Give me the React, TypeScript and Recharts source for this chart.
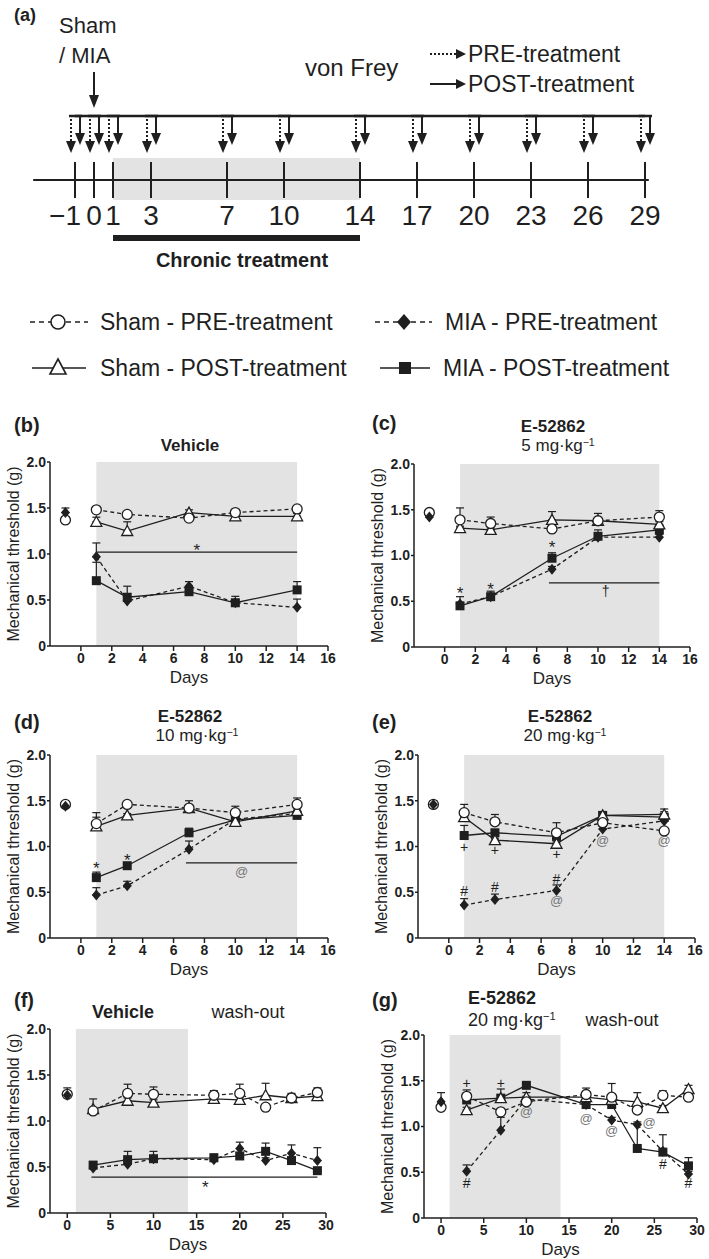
import React from "react"
import {
  ComposedChart,
  Line,
  XAxis,
  YAxis,
  ReferenceArea,
  ReferenceLine,
  ReferenceDot,
  ErrorBar,
} from "recharts"

const INK = "#1f1f1f"
const SHADE = "#e3e3e3"
const FONT = '"Liberation Sans", Arial, Helvetica, sans-serif'

// (a) protocol timeline
const timelineDays = [-1, 0, 1, 3, 7, 10, 14, 17, 20, 23, 26, 29]
const chronicWindow = [1, 14]
const injectionDay = 0

// von Frey test days
const chronicDays = [1, 3, 7, 10, 14]
const washoutDays = [3, 7, 10, 17, 20, 23, 26, 29]
const chronicTicks = [0, 2, 4, 6, 8, 10, 12, 14, 16]
const washoutTicks = [0, 5, 10, 15, 20, 25, 30]
const yTicks = [0, 0.5, 1, 1.5, 2]

// (b) vehicle
const bShamPre = [1.48, 1.43, 1.39, 1.45, 1.49]
const bShamPreErr = [0.02, 0.02, 0.02, 0.02, 0.02]
const bShamPost = [1.35, 1.25, 1.45, 1.41, 1.41]
const bShamPostErr = [0.05, 0.1, 0.03, 0.03, 0.03]
const bMiaPre = [0.97, 0.49, 0.65, 0.47, 0.42]
const bMiaPreErr = [0.15, 0.04, 0.05, 0.03, 0.09]
const bMiaPost = [0.71, 0.53, 0.59, 0.47, 0.61]
const bMiaPostErr = [0.2, 0.12, 0.05, 0.07, 0.09]
const bBaseline = [1.37, 1.45, 0.05] // sham, MIA, sem

// (c) E-52862 5 mg/kg
const cShamPre = [1.39, 1.35, 1.29, 1.38, 1.42]
const cShamPreErr = [0.13, 0.07, 0.02, 0.03, 0.07]
const cShamPost = [1.3, 1.28, 1.39, 1.38, 1.34]
const cShamPostErr = [0.02, 0.02, 0.09, 0.08, 0.03]
const cMiaPre = [0.47, 0.55, 0.85, 1.2, 1.2]
const cMiaPreErr = [0.08, 0.03, 0.03, 0.03, 0.03]
const cMiaPost = [0.45, 0.55, 0.97, 1.21, 1.28]
const cMiaPostErr = [0.03, 0.06, 0.06, 0.07, 0.04]
const cBaseline = [1.47, 1.42, 0.03]

// (d) E-52862 10 mg/kg
const dShamPre = [1.25, 1.46, 1.42, 1.37, 1.46]
const dShamPreErr = [0.12, 0.02, 0.08, 0.07, 0.07]
const dShamPost = [1.22, 1.34, 1.42, 1.27, 1.39]
const dShamPostErr = [0.1, 0.02, 0.02, 0.03, 0.02]
const dMiaPre = [0.47, 0.57, 0.97, 1.3, 1.36]
const dMiaPreErr = [0.08, 0.05, 0.09, 0.03, 0.03]
const dMiaPost = [0.66, 0.79, 1.15, 1.29, 1.34]
const dMiaPostErr = [0.06, 0.03, 0.05, 0.03, 0.03]
const dBaseline = [1.46, 1.44, 0.02]

// (e) E-52862 20 mg/kg
const eShamPre = [1.37, 1.27, 1.15, 1.26, 1.17]
const eShamPreErr = [0.09, 0.08, 0.11, 0.03, 0.03]
const eShamPost = [1.32, 1.07, 1.03, 1.34, 1.35]
const eShamPostErr = [0.02, 0.02, 0.02, 0.03, 0.03]
const eMiaPre = [0.36, 0.42, 0.52, 1.19, 1.28]
const eMiaPreErr = [0.07, 0.06, 0.06, 0.03, 0.03]
const eMiaPost = [1.12, 1.15, 1.11, 1.34, 1.32]
const eMiaPostErr = [0.11, 0.03, 0.03, 0.04, 0.09]
const eBaseline = [1.46, 1.46, 0.04]

// (f) vehicle + wash-out
const fShamPre = [1.11, 1.3, 1.29, 1.28, 1.3, 1.15, 1.25, 1.31]
const fShamPreErr = [0.02, 0.1, 0.08, 0.05, 0.1, 0.02, 0.05, 0.05]
const fShamPost = [1.13, 1.22, 1.2, 1.24, 1.23, 1.28, 1.25, 1.27]
const fShamPostErr = [0.11, 0.03, 0.03, 0.03, 0.03, 0.13, 0.03, 0.03]
const fMiaPre = [0.49, 0.53, 0.59, 0.58, 0.7, 0.57, 0.65, 0.57]
const fMiaPreErr = [0.03, 0.03, 0.03, 0.03, 0.07, 0.03, 0.09, 0.14]
const fMiaPost = [0.52, 0.58, 0.59, 0.6, 0.62, 0.67, 0.57, 0.46]
const fMiaPostErr = [0.04, 0.09, 0.08, 0.04, 0.03, 0.09, 0.03, 0.03]
const fBaseline = [1.29, 1.28, 0.08]

// (g) E-52862 20 mg/kg + wash-out
const gShamPre = [1.33, 1.16, 1.27, 1.35, 1.32, 1.18, 1.34, 1.32]
const gShamPreErr = [0.07, 0.03, 0.03, 0.07, 0.15, 0.03, 0.05, 0.03]
const gShamPost = [1.18, 1.31, 1.32, 1.32, 1.29, 1.27, 1.2, 1.41]
const gShamPostErr = [0.03, 0.03, 0.05, 0.03, 0.03, 0.1, 0.03, 0.04]
const gMiaPre = [0.51, 0.96, 1.3, 1.24, 1.07, 1.02, 0.73, 0.48]
const gMiaPreErr = [0.07, 0.14, 0.03, 0.03, 0.03, 0.03, 0.18, 0.03]
const gMiaPost = [1.29, 1.31, 1.45, 1.24, 1.24, 0.76, 0.72, 0.57]
const gMiaPostErr = [0.04, 0.1, 0.03, 0.03, 0.03, 0.27, 0.03, 0.09]
const gBaseline = [1.21, 1.27, 0.1]

// significance marks: [day, value, symbol]
const bNotes: [number, number, string][] = [[7.5, 1.08, "*"]]
const cNotes: [number, number, string][] = [[1, 0.63, "*"], [3, 0.67, "*"], [7, 1.13, "*"], [10.5, 0.61, "†"]]
const dNotes: [number, number, string][] = [[1, 0.8, "*"], [3, 0.89, "*"], [10.4, 0.73, "@"]]
const eNotes: [number, number, string][] = [
  [1, 1.0, "+"], [3, 0.96, "+"], [7, 0.92, "+"],
  [1, 0.51, "#"], [3, 0.56, "#"], [7, 0.65, "#"],
  [7, 0.41, "@"], [10, 1.07, "@"], [14, 1.07, "@"],
]
const fNotes: [number, number, string][] = [[16, 0.32, "*"]]
const gNotes: [number, number, string][] = [
  [3, 1.47, "+"], [7, 1.47, "+"],
  [3, 0.38, "#"], [26, 0.59, "#"], [29, 0.38, "#"],
  [10, 1.16, "@"], [17, 1.09, "@"], [20, 0.96, "@"], [24.4, 1.04, "@"],
]
// significance bars: [from day, to day, value]
const bBars: [number, number, number][] = [[1, 14, 1.02]]
const cBars: [number, number, number][] = [[6.8, 14, 0.7]]
const dBars: [number, number, number][] = [[6.8, 14, 0.82]]
const fBars: [number, number, number][] = [[2.8, 29, 0.39]]

const ok = (p: any) =>
  p && p.cx != null && p.cy != null && p.value != null && !Number.isNaN(p.cy)

const openCircle = (p: any) =>
  ok(p) ? (
    <circle key={p.index} cx={p.cx} cy={p.cy} r={5} fill="#fff" stroke={INK} strokeWidth={1.3} />
  ) : (
    <g key={p?.index} />
  )
const openTriangle = (p: any) =>
  ok(p) ? (
    <polygon
      key={p.index}
      points={`${p.cx},${p.cy - 5.5} ${p.cx + 5.5},${p.cy + 4.5} ${p.cx - 5.5},${p.cy + 4.5}`}
      fill="#fff"
      stroke={INK}
      strokeWidth={1.3}
    />
  ) : (
    <g key={p?.index} />
  )
const filledDiamond = (p: any) =>
  ok(p) ? (
    <polygon
      key={p.index}
      points={`${p.cx},${p.cy - 5.5} ${p.cx + 4.5},${p.cy} ${p.cx},${p.cy + 5.5} ${p.cx - 4.5},${p.cy}`}
      fill={INK}
    />
  ) : (
    <g key={p?.index} />
  )
const filledSquare = (p: any) =>
  ok(p) ? (
    <rect key={p.index} x={p.cx - 4.5} y={p.cy - 4.5} width={9} height={9} fill={INK} />
  ) : (
    <g key={p?.index} />
  )

const noteStyle = (s: string) => {
  if (s === "@") return { fill: "#777", fontSize: 13, dy: "0" }
  if (s === "*") return { fill: INK, fontSize: 17, dy: "0.22em" }
  return { fill: INK, fontSize: 14, dy: "0" }
}

type PanelProps = {
  box: [number, number, number, number]
  xDomain: [number, number]
  xTicks: number[]
  days: number[]
  baseDay: number
  baseline: number[]
  shamPre: number[]
  shamPreErr: number[]
  shamPost: number[]
  shamPostErr: number[]
  miaPre: number[]
  miaPreErr: number[]
  miaPost: number[]
  miaPostErr: number[]
  notes: [number, number, string][]
  bars: [number, number, number][]
}

function Panel(p: PanelProps) {
  const [left, right, top, bottom] = p.box
  const yw = 50
  const mt = 10
  const mr = 12
  const xh = 45
  const rows: any[] = [
    { day: p.baseDay, baseSham: p.baseline[0], baseMia: p.baseline[1], baseErr: [0, p.baseline[2]] },
    ...p.days.map((day, i) => ({
      day,
      shamPre: p.shamPre[i],
      shamPreErr: [0, p.shamPreErr[i]],
      shamPost: p.shamPost[i],
      shamPostErr: [0, p.shamPostErr[i]],
      miaPre: p.miaPre[i],
      miaPreErr: [0, p.miaPreErr[i]],
      miaPost: p.miaPost[i],
      miaPostErr: [0, p.miaPostErr[i]],
    })),
  ]
  const err = (key: string) => (
    <ErrorBar dataKey={key} width={4} stroke={INK} strokeWidth={1.2} direction="y" />
  )
  return (
    <div style={{ position: "absolute", left: left - yw, top: top - mt }}>
      <ComposedChart
        width={right - left + yw + mr}
        height={bottom - top + mt + xh}
        data={rows}
        margin={{ top: mt, right: mr, bottom: 0, left: 0 }}
      >
        <ReferenceArea
          x1={chronicWindow[0]}
          x2={chronicWindow[1]}
          y1={0}
          y2={2}
          fill={SHADE}
          fillOpacity={1}
          stroke="none"
        />
        <XAxis
          type="number"
          dataKey="day"
          domain={p.xDomain}
          ticks={p.xTicks}
          height={xh}
          tickSize={5}
          tickMargin={2}
          axisLine={{ stroke: INK, strokeWidth: 1.5 }}
          tickLine={{ stroke: INK, strokeWidth: 1.5 }}
          tick={{ fontSize: 14, fontWeight: 700, fill: INK }}
          label={{ value: "Days", position: "insideBottom", offset: 8, fontSize: 17, fill: INK }}
        />
        <YAxis
          type="number"
          domain={[0, 2]}
          ticks={yTicks}
          width={yw}
          tickSize={3}
          tickMargin={1}
          axisLine={{ stroke: INK, strokeWidth: 1.5 }}
          tickLine={{ stroke: INK, strokeWidth: 1.5 }}
          tick={{ fontSize: 14, fontWeight: 700, fill: INK }}
          tickFormatter={(v: number) => (v === 0 ? "0" : v.toFixed(1))}
          label={{
            value: "Mechanical threshold (g)",
            angle: -90,
            position: "insideLeft",
            offset: 13,
            fontSize: 16,
            fill: INK,
            style: { textAnchor: "middle" },
          }}
        />
        {p.bars.map(([from, to, y], i) => (
          <ReferenceLine
            key={`bar${i}`}
            segment={[{ x: from, y }, { x: to, y }]}
            stroke={INK}
            strokeWidth={1.2}
          />
        ))}
        <Line dataKey="baseSham" stroke="none" dot={openCircle} activeDot={false} isAnimationActive={false} />
        <Line dataKey="baseMia" stroke="none" dot={filledDiamond} activeDot={false} isAnimationActive={false}>
          {err("baseErr")}
        </Line>
        <Line
          dataKey="miaPre"
          stroke={INK}
          strokeWidth={1.3}
          strokeDasharray="4 3"
          dot={filledDiamond}
          activeDot={false}
          isAnimationActive={false}
        >
          {err("miaPreErr")}
        </Line>
        <Line
          dataKey="miaPost"
          stroke={INK}
          strokeWidth={1.3}
          dot={filledSquare}
          activeDot={false}
          isAnimationActive={false}
        >
          {err("miaPostErr")}
        </Line>
        <Line
          dataKey="shamPost"
          stroke={INK}
          strokeWidth={1.3}
          dot={openTriangle}
          activeDot={false}
          isAnimationActive={false}
        >
          {err("shamPostErr")}
        </Line>
        <Line
          dataKey="shamPre"
          stroke={INK}
          strokeWidth={1.3}
          strokeDasharray="4 3"
          dot={openCircle}
          activeDot={false}
          isAnimationActive={false}
        >
          {err("shamPreErr")}
        </Line>
        {p.notes.map(([day, v, s], i) => {
          const st = noteStyle(s)
          return (
            <ReferenceDot
              key={`note${i}`}
              x={day}
              y={v}
              r={0}
              shape={(q: any) => (
                <text
                  x={q.cx}
                  y={q.cy}
                  dy={st.dy}
                  textAnchor="middle"
                  dominantBaseline="central"
                  fontSize={st.fontSize}
                  fill={st.fill}
                  style={{ fill: st.fill }}
                >
                  {s}
                </text>
              )}
            />
          )
        })}
      </ComposedChart>
    </div>
  )
}

function TimelineMark(p: any) {
  if (!ok(p)) return <g key={p?.index} />
  const { cx, cy } = p
  const day = p.payload.day
  const neg = day < 0
  return (
    <g key={p.index}>
      <line x1={cx} x2={cx} y1={cy - 18} y2={cy + 18} stroke={INK} strokeWidth={2} />
      <text
        x={neg ? cx + 6 : cx}
        y={cy + 35}
        textAnchor={neg ? "end" : "middle"}
        dominantBaseline="central"
        fontSize={28}
        fill={INK}
      >
        {neg ? `\u2212${-day}` : String(day)}
      </text>
      <line x1={cx - 6} x2={cx + 7} y1={cy - 64} y2={cy - 64} stroke={INK} strokeWidth={2.5} />
      <line x1={cx - 4} x2={cx - 4} y1={cy - 61} y2={cy - 38} stroke={INK} strokeWidth={2} strokeDasharray="2 2" />
      <polygon points={`${cx - 9},${cy - 39} ${cx + 1},${cy - 39} ${cx - 4},${cy - 27}`} fill={INK} />
      <line x1={cx + 5} x2={cx + 5} y1={cy - 64} y2={cy - 46} stroke={INK} strokeWidth={2} />
      <polygon points={`${cx},${cy - 47} ${cx + 10},${cy - 47} ${cx + 5},${cy - 35}`} fill={INK} />
    </g>
  )
}

function Timeline() {
  const rows = timelineDays.map((day) => ({ day, level: 0 }))
  return (
    <div style={{ position: "absolute", left: 0, top: 60 }}>
      <ComposedChart width={709} height={200} data={rows} margin={{ top: 0, right: 26, bottom: 0, left: 18 }}>
        <XAxis type="number" dataKey="day" domain={[-4, 31]} hide />
        <YAxis type="number" domain={[-1, 1.5]} hide />
        <ReferenceArea
          x1={chronicWindow[0]}
          x2={chronicWindow[1]}
          y1={-0.25}
          y2={0.275}
          fill={SHADE}
          fillOpacity={1}
          stroke="none"
        />
        <ReferenceLine segment={[{ x: -3.2, y: 0 }, { x: 29.2, y: 0 }]} stroke={INK} strokeWidth={2} />
        <ReferenceLine
          segment={[
            { x: timelineDays[0], y: 0.8 },
            { x: timelineDays[timelineDays.length - 1], y: 0.8 },
          ]}
          stroke={INK}
          strokeWidth={2.5}
        />
        <ReferenceLine
          segment={[
            { x: chronicWindow[0], y: -0.725 },
            { x: chronicWindow[1], y: -0.725 },
          ]}
          stroke={INK}
          strokeWidth={6}
        />
        <ReferenceDot
          x={injectionDay}
          y={0.9}
          r={0}
          shape={(q: any) => (
            <g>
              <line x1={q.cx} x2={q.cx} y1={q.cy - 36} y2={q.cy - 12} stroke={INK} strokeWidth={2} />
              <polygon points={`${q.cx - 5},${q.cy - 13} ${q.cx + 5},${q.cy - 13} ${q.cx},${q.cy}`} fill={INK} />
            </g>
          )}
        />
        <Line dataKey="level" stroke="none" dot={TimelineMark} activeDot={false} isAnimationActive={false} />
      </ComposedChart>
    </div>
  )
}

function Txt(props: {
  x: number
  y: number
  size: number
  bold?: boolean
  anchor?: "start" | "middle"
  color?: string
  children: React.ReactNode
}) {
  const { x, y, size, bold, anchor = "middle", color = INK, children } = props
  return (
    <div
      style={{
        position: "absolute",
        left: x,
        top: y,
        transform: `translate(${anchor === "middle" ? "-50%" : "0"}, -50%)`,
        fontSize: size,
        fontWeight: bold ? 700 : 400,
        lineHeight: 1,
        whiteSpace: "nowrap",
        color,
      }}
    >
      {children}
    </div>
  )
}

const dose = (mg: string) => (
  <>
    {mg} mg·kg
    <span style={{ fontSize: "0.62em", position: "relative", top: "-0.5em" }}>−1</span>
  </>
)

function Overlay() {
  return (
    <svg style={{ position: "absolute", left: 0, top: 0 }} width={709} height={400}>
      {/* PRE / POST arrows of the timeline key */}
      <line x1={430} x2={457} y1={54} y2={54} stroke={INK} strokeWidth={2} strokeDasharray="2 2" />
      <polygon points="456,49 456,59 466,54" fill={INK} />
      <line x1={430} x2={457} y1={84} y2={84} stroke={INK} strokeWidth={2} />
      <polygon points="456,79 456,89 466,84" fill={INK} />
      {/* legend */}
      <line x1={30} x2={88} y1={322} y2={322} stroke={INK} strokeWidth={1.5} strokeDasharray="5 4" />
      <circle cx={58} cy={322} r={7} fill="#fff" stroke={INK} strokeWidth={1.6} />
      <line x1={375} x2={432} y1={322} y2={322} stroke={INK} strokeWidth={1.5} strokeDasharray="5 4" />
      <polygon points="404,314 411,322 404,330 397,322" fill={INK} />
      <line x1={32} x2={86} y1={368} y2={368} stroke={INK} strokeWidth={1.5} />
      <polygon points="58,359 66,374 50,374" fill="#fff" stroke={INK} strokeWidth={1.6} />
      <line x1={380} x2={430} y1={368} y2={368} stroke={INK} strokeWidth={1.5} />
      <rect x={399} y={362} width={12} height={12} fill={INK} />
    </svg>
  )
}

export default function App() {
  return (
    <div
      style={{
        position: "absolute",
        left: 0,
        top: 0,
        width: 709,
        height: 1259,
        background: "#fff",
        fontFamily: FONT,
        color: INK,
        overflow: "hidden",
      }}
    >
      <Timeline />
      <Overlay />

      <Txt x={14} y={15} size={18} bold anchor="start">(a)</Txt>
      <Txt x={59} y={26} size={22} anchor="start">Sham</Txt>
      <Txt x={59} y={56} size={22} anchor="start">/ MIA</Txt>
      <Txt x={305} y={68} size={24} anchor="start">von Frey</Txt>
      <Txt x={468} y={54} size={23} anchor="start">PRE-treatment</Txt>
      <Txt x={468} y={84} size={23} anchor="start">POST-treatment</Txt>
      <Txt x={242} y={260} size={20} bold>Chronic treatment</Txt>

      <Txt x={100} y={322} size={23} anchor="start">Sham - PRE-treatment</Txt>
      <Txt x={445} y={322} size={23} anchor="start">MIA - PRE-treatment</Txt>
      <Txt x={100} y={368} size={23} anchor="start">Sham - POST-treatment</Txt>
      <Txt x={443} y={368} size={23} anchor="start">MIA - POST-treatment</Txt>

      <Txt x={14} y={425} size={20} bold anchor="start">(b)</Txt>
      <Txt x={190} y={445} size={17} bold>Vehicle</Txt>
      <Txt x={372} y={423} size={20} bold anchor="start">(c)</Txt>
      <Txt x={553} y={426} size={17} bold>E-52862</Txt>
      <Txt x={558} y={445} size={17}>{dose("5")}</Txt>

      <Txt x={14} y={722} size={20} bold anchor="start">(d)</Txt>
      <Txt x={190} y={716} size={17} bold>E-52862</Txt>
      <Txt x={197} y={735} size={17}>{dose("10")}</Txt>
      <Txt x={372} y={722} size={20} bold anchor="start">(e)</Txt>
      <Txt x={560} y={716} size={17} bold>E-52862</Txt>
      <Txt x={565} y={735} size={17}>{dose("20")}</Txt>

      <Txt x={14} y={1000} size={20} bold anchor="start">(f)</Txt>
      <Txt x={123} y={1012} size={18} bold>Vehicle</Txt>
      <Txt x={248} y={1012} size={18}>wash-out</Txt>
      <Txt x={372} y={1000} size={20} bold anchor="start">(g)</Txt>
      <Txt x={468} y={998} size={18} bold anchor="start">E-52862</Txt>
      <Txt x={468} y={1020} size={18} anchor="start">{dose("20")}</Txt>
      <Txt x={622} y={1020} size={18}>wash-out</Txt>

      <Panel
        box={[50, 328, 462, 646]}
        xDomain={[-2, 16]}
        xTicks={chronicTicks}
        days={chronicDays}
        baseDay={-1}
        baseline={bBaseline}
        shamPre={bShamPre}
        shamPreErr={bShamPreErr}
        shamPost={bShamPost}
        shamPostErr={bShamPostErr}
        miaPre={bMiaPre}
        miaPreErr={bMiaPreErr}
        miaPost={bMiaPost}
        miaPostErr={bMiaPostErr}
        notes={bNotes}
        bars={bBars}
      />
      <Panel
        box={[414, 690, 464, 647]}
        xDomain={[-2, 16]}
        xTicks={chronicTicks}
        days={chronicDays}
        baseDay={-1}
        baseline={cBaseline}
        shamPre={cShamPre}
        shamPreErr={cShamPreErr}
        shamPost={cShamPost}
        shamPostErr={cShamPostErr}
        miaPre={cMiaPre}
        miaPreErr={cMiaPreErr}
        miaPost={cMiaPost}
        miaPostErr={cMiaPostErr}
        notes={cNotes}
        bars={cBars}
      />
      <Panel
        box={[50, 328, 755, 938]}
        xDomain={[-2, 16]}
        xTicks={chronicTicks}
        days={chronicDays}
        baseDay={-1}
        baseline={dBaseline}
        shamPre={dShamPre}
        shamPreErr={dShamPreErr}
        shamPost={dShamPost}
        shamPostErr={dShamPostErr}
        miaPre={dMiaPre}
        miaPreErr={dMiaPreErr}
        miaPost={dMiaPost}
        miaPostErr={dMiaPostErr}
        notes={dNotes}
        bars={dBars}
      />
      <Panel
        box={[418, 695, 755, 938]}
        xDomain={[-2, 16]}
        xTicks={chronicTicks}
        days={chronicDays}
        baseDay={-1}
        baseline={eBaseline}
        shamPre={eShamPre}
        shamPreErr={eShamPreErr}
        shamPost={eShamPost}
        shamPostErr={eShamPostErr}
        miaPre={eMiaPre}
        miaPreErr={eMiaPreErr}
        miaPost={eMiaPost}
        miaPostErr={eMiaPostErr}
        notes={eNotes}
        bars={[]}
      />
      <Panel
        box={[50, 326, 1029, 1213]}
        xDomain={[-2, 30]}
        xTicks={washoutTicks}
        days={washoutDays}
        baseDay={0}
        baseline={fBaseline}
        shamPre={fShamPre}
        shamPreErr={fShamPreErr}
        shamPost={fShamPost}
        shamPostErr={fShamPostErr}
        miaPre={fMiaPre}
        miaPreErr={fMiaPreErr}
        miaPost={fMiaPost}
        miaPostErr={fMiaPostErr}
        notes={fNotes}
        bars={fBars}
      />
      <Panel
        box={[424, 697, 1035, 1218]}
        xDomain={[-2, 30]}
        xTicks={washoutTicks}
        days={washoutDays}
        baseDay={0}
        baseline={gBaseline}
        shamPre={gShamPre}
        shamPreErr={gShamPreErr}
        shamPost={gShamPost}
        shamPostErr={gShamPostErr}
        miaPre={gMiaPre}
        miaPreErr={gMiaPreErr}
        miaPost={gMiaPost}
        miaPostErr={gMiaPostErr}
        notes={gNotes}
        bars={[]}
      />
    </div>
  )
}
